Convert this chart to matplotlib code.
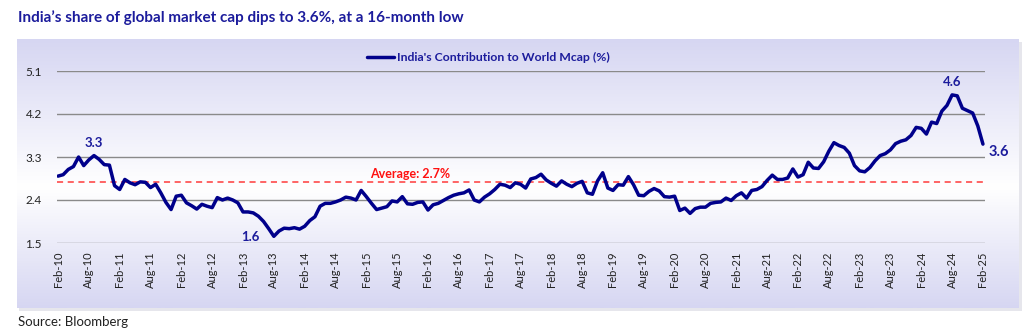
import numpy as np
import pandas as pd
import matplotlib
matplotlib.use('Agg')
import matplotlib.pyplot as plt

# ===================== DATA =====================
START = '2010-02'
END = '2025-02'

# India's share of world market cap (%), monthly Feb-10 .. Feb-25
mcap_share = [
    2.90, 2.93, 3.04, 3.10, 3.30, 3.12, 3.24, 3.33, 3.25, 3.14,
    3.13, 2.70, 2.62, 2.83, 2.76, 2.72, 2.78, 2.77, 2.66, 2.73,
    2.55, 2.35, 2.20, 2.48, 2.50, 2.34, 2.28, 2.21, 2.31, 2.27,
    2.24, 2.45, 2.40, 2.44, 2.40, 2.34, 2.15, 2.15, 2.13, 2.06,
    1.95, 1.80, 1.64, 1.75, 1.81, 1.80, 1.82, 1.79, 1.85, 1.97,
    2.05, 2.27, 2.33, 2.33, 2.36, 2.40, 2.46, 2.44, 2.40, 2.60,
    2.47, 2.33, 2.20, 2.23, 2.26, 2.38, 2.36, 2.47, 2.32, 2.31,
    2.35, 2.36, 2.19, 2.30, 2.33, 2.39, 2.45, 2.50, 2.53, 2.55,
    2.61, 2.40, 2.36, 2.46, 2.53, 2.62, 2.73, 2.71, 2.66, 2.76,
    2.73, 2.65, 2.84, 2.87, 2.94, 2.82, 2.75, 2.69, 2.80, 2.73,
    2.68, 2.75, 2.79, 2.55, 2.52, 2.80, 2.97, 2.65, 2.60, 2.72,
    2.71, 2.89, 2.72, 2.50, 2.49, 2.58, 2.64, 2.59, 2.47, 2.46,
    2.48, 2.18, 2.23, 2.12, 2.22, 2.25, 2.25, 2.33, 2.35, 2.36,
    2.44, 2.39, 2.49, 2.55, 2.44, 2.60, 2.62, 2.68, 2.81, 2.92,
    2.83, 2.83, 2.86, 3.05, 2.88, 2.93, 3.19, 3.07, 3.06, 3.20,
    3.42, 3.60, 3.54, 3.50, 3.38, 3.12, 3.01, 2.99, 3.08, 3.22,
    3.33, 3.37, 3.45, 3.58, 3.63, 3.66, 3.75, 3.92, 3.90, 3.78,
    4.03, 4.00, 4.26, 4.38, 4.60, 4.58, 4.32, 4.27, 4.22, 3.95,
    3.57,
]
AVERAGE = 2.78          # drawn level of the dashed average line
AVERAGE_LABEL = 'Average: 2.7%'
Y_TICKS = [1.5, 2.4, 3.3, 4.2, 5.1]

# point labels: (month index, text, y position)
POINT_LABELS = [(7, '3.3', 3.60), (37.5, '1.6', 1.62), (174, '4.6', 4.87)]
LAST_LABEL = '3.6'
# ================================================

NAVY = '#00008B'
TITLE_BLUE = '#1C1C9C'
FONT = ['Lato', 'DejaVu Sans']
plt.rcParams['font.family'] = FONT

months = pd.period_range(START, END, freq='M')
x = np.arange(len(months))
y = np.array(mcap_share)

W, H = 1029, 330
fig = plt.figure(figsize=(W / 100, H / 100), dpi=100)

# gradient panel behind the chart (with a faint drop shadow)
shadow = fig.add_axes([19 / W, 1 - 311 / H, (1022 - 19) / W, (311 - 42) / H])
shadow.set_facecolor('#e4e4ea')
shadow.set_axis_off()
shadow.add_patch(plt.Rectangle((0, 0), 1, 1, color='#e6e6ec', transform=shadow.transAxes))

bg = fig.add_axes([17 / W, 1 - 308 / H, (1019 - 17) / W, (308 - 39) / H])
top = np.array([214, 214, 242]) / 255
mid = np.array([255, 255, 255]) / 255
stops = np.linspace(0, 1, 256)
cols = np.empty((256, 1, 3))
for i, s in enumerate(stops):
    if s < 0.55:
        f = s / 0.55
        cols[i, 0] = top * (1 - f) + mid * f
    else:
        f = (s - 0.55) / 0.45
        cols[i, 0] = mid * (1 - f) + top * f
bg.imshow(cols, aspect='auto', extent=[0, 1, 0, 1], origin='upper')
bg.set_axis_off()

ax = fig.add_axes([57 / W, 1 - 243 / H, (985 - 57) / W, (243 - 71) / H])
ax.patch.set_alpha(0)
ax.set_xlim(-0.2, len(x) - 1 + 0.4)
ax.set_ylim(Y_TICKS[0], Y_TICKS[-1])
ax.set_yticks(Y_TICKS)
ax.set_yticklabels([f'{v:.1f}' for v in Y_TICKS], fontsize=8.5, color='#222222')
ax.yaxis.grid(True, color='#8a8a8a', lw=1.0)
ax.set_axisbelow(True)
for s in ax.spines.values():
    s.set_visible(False)
ax.tick_params(length=0, pad=11)
ax.tick_params(axis='x', pad=6)

tick_pos = x[::6]
ax.set_xticks(tick_pos)
ax.set_xticklabels([months[i].strftime('%b-%y') for i in tick_pos],
                   rotation=90, fontsize=8, color='#222222')

ax.axhline(AVERAGE, color='#FF3B3B', lw=1.1, ls=(0, (4, 3)), zorder=2)
ax.text(68.5, AVERAGE + 0.17, AVERAGE_LABEL, color='#FF1010', fontsize=9,
        fontweight='bold', ha='center', va='center')

ax.plot(x, y, color=NAVY, lw=2.5, solid_joinstyle='round',
        solid_capstyle='round', zorder=3,
        label="India's Contribution to World Mcap (%)")

for xi, txt, yi in POINT_LABELS:
    ax.text(xi, yi, txt, color=TITLE_BLUE, fontsize=9.5, fontweight='bold',
            ha='center', va='center')
ax.text(len(x) - 1 + 1, y[-1] - 0.16, LAST_LABEL, color=TITLE_BLUE,
        fontsize=10.5, fontweight='bold', ha='left', va='center')

leg = ax.legend(loc='upper center', bbox_to_anchor=(0.465, 1.175), frameon=False,
                handlelength=2.2, handletextpad=0.2, fontsize=8.8)
for t in leg.get_texts():
    t.set_color(TITLE_BLUE)
    t.set_fontweight('bold')

fig.text(18 / W, 1 - 18 / H, "India\u2019s share of global market cap dips to 3.6%, at a 16-month low",
         color=TITLE_BLUE, fontsize=11, fontweight='bold', ha='left', va='center')
fig.text(18 / W, 1 - 322 / H, 'Source: Bloomberg', color='#222222', fontsize=9.5,
         ha='left', va='center')

fig.savefig('out.png', dpi=100)
